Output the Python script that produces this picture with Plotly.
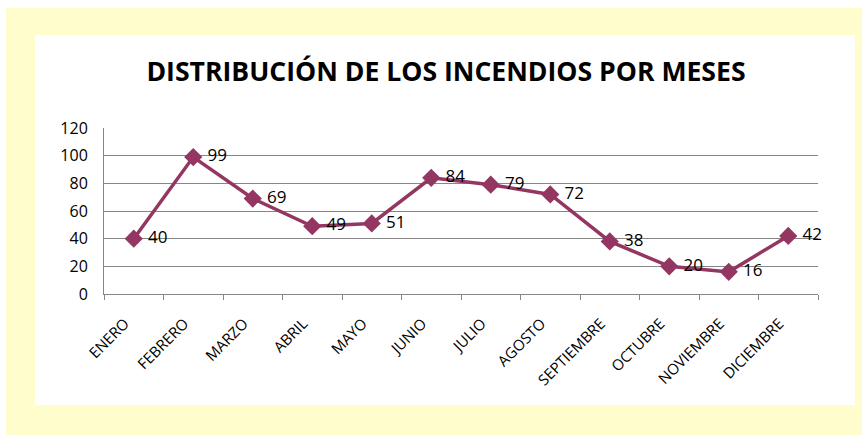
import plotly.graph_objects as go

meses = ["ENERO", "FEBRERO", "MARZO", "ABRIL", "MAYO", "JUNIO", "JULIO",
         "AGOSTO", "SEPTIEMBRE", "OCTUBRE", "NOVIEMBRE", "DICIEMBRE"]
incendios = [40, 99, 69, 49, 51, 84, 79, 72, 38, 20, 16, 42]
y_ticks = [0, 20, 40, 60, 80, 100, 120]
titulo = "DISTRIBUCIÓN DE LOS INCENDIOS POR MESES"

W, H = 866, 435
L, R, T, B = 104, 48, 128, 141
pw, ph = W - L - R, H - T - B

def px(x):
    return (x - L) / pw

def py(y):
    return (H - B - y) / ph

color = "#943662"

fig = go.Figure()
fig.add_trace(go.Scatter(
    x=meses, y=incendios, mode="lines+markers+text",
    text=["\u00a0" + str(v) for v in incendios], textposition="middle right",
    textfont=dict(family="Open Sans", size=17, color="#000000"),
    line=dict(color=color, width=3.5),
    marker=dict(symbol="diamond", size=14, color=color),
    cliponaxis=False, showlegend=False, hoverinfo="skip",
))

fig.update_layout(
    width=W, height=H,
    margin=dict(l=L, r=R, t=T, b=B, autoexpand=False),
    paper_bgcolor="white", plot_bgcolor="rgba(0,0,0,0)",
    title=dict(text="<b>" + titulo + "</b>", x=446 / W, xanchor="center",
               y=1 - 72 / H, yanchor="middle",
               font=dict(family="Open Sans", size=26.6, color="#000000")),
    shapes=[
        dict(type="rect", xref="paper", yref="paper", layer="below",
             x0=px(6), x1=px(862), y0=py(440), y1=py(8),
             fillcolor="#FFFDCC", line=dict(width=0)),
        dict(type="rect", xref="paper", yref="paper", layer="below",
             x0=px(35), x1=px(855), y0=py(405), y1=py(35),
             fillcolor="#FFFFFF", line=dict(width=0)),
    ],
)
fig.update_xaxes(
    type="category", tickangle=-45, tickson="boundaries", ticks="outside",
    ticklen=5, tickcolor="#868686", showline=True, linecolor="#868686",
    linewidth=1, showgrid=False, range=[-0.5, 11.5],
    ticklabelstandoff=14, ticklabelshift=-9,
    tickfont=dict(family="Open Sans", size=15, color="#000000"),
)
fig.update_yaxes(
    range=[0, 120], tickvals=y_ticks, showgrid=True, gridcolor="#868686",
    gridwidth=1, showline=True, linecolor="#868686", linewidth=1,
    zeroline=False, ticks="", ticklabelstandoff=12,
    tickfont=dict(family="Open Sans", size=16, color="#000000"),
)
fig.write_html("out.html", config={"displayModeBar": False},
               post_script="document.body.style.margin='0';")
